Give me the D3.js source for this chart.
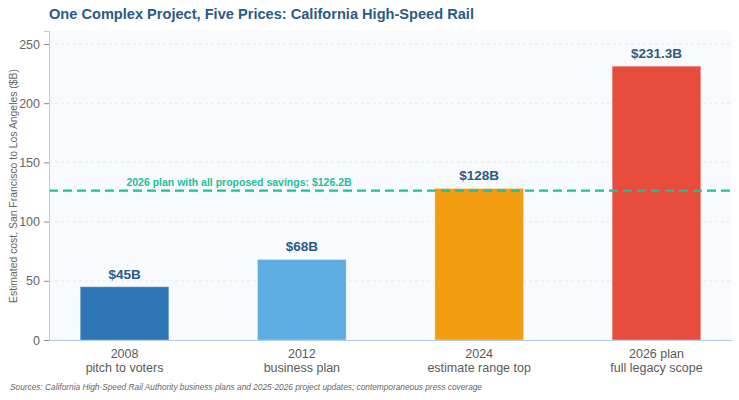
<!DOCTYPE html>
<html>
<head>
<meta charset="utf-8">
<script src="https://cdn.jsdelivr.net/npm/d3@7"></script>
<style>
  body { margin: 0; background: #fff; }
  svg { font-family: "Liberation Sans", Arial, sans-serif; }
</style>
</head>
<body>
<div id="chart"></div>
<script>
// data
const years = ["2008", "2012", "2024", "2026 plan"];
const subtitles = ["pitch to voters", "business plan", "estimate range top", "full legacy scope"];
const costs = [45, 68, 128, 231.3];
const costLabels = ["$45B", "$68B", "$128B", "$231.3B"];
const barColors = ["#2e75b6", "#5dade2", "#f39c12", "#e74c3c"];
const yTicks = [0, 50, 100, 150, 200, 250];
const savingsValue = 126.2;
const savingsLabel = "2026 plan with all proposed savings: $126.2B";

const width = 739, height = 400;
const margin = {top: 31, right: 7, bottom: 60, left: 49};
const innerW = width - margin.left - margin.right;
const innerH = height - margin.top - margin.bottom;

const svg = d3.select("#chart").append("svg")
  .attr("width", width)
  .attr("height", height);

svg.append("text")
  .attr("x", 49).attr("y", 19)
  .attr("font-size", 14.6).attr("font-weight", "bold")
  .attr("fill", "#2b5b84")
  .text("One Complex Project, Five Prices: California High-Speed Rail");

const g = svg.append("g").attr("transform", `translate(${margin.left},${margin.top})`);

g.append("rect")
  .attr("width", innerW).attr("height", innerH)
  .attr("fill", "#f8fafd");

const x = d3.scaleBand()
  .domain(years)
  .range([0, innerW])
  .paddingInner(0.5)
  .paddingOuter(0.176);

const y = d3.scaleLinear()
  .domain([0, 261])
  .range([innerH, 0]);

// grid
g.append("g")
  .selectAll("line")
  .data(yTicks)
  .join("line")
  .attr("x1", 0).attr("x2", innerW)
  .attr("y1", d => y(d)).attr("y2", d => y(d))
  .attr("stroke", "#e3e7ee")
  .attr("stroke-dasharray", "3,3")
  .attr("stroke-width", 0.8);

// bars
g.append("g")
  .selectAll("rect")
  .data(costs)
  .join("rect")
  .attr("x", (d, i) => x(years[i]))
  .attr("y", d => y(d))
  .attr("width", x.bandwidth())
  .attr("height", d => innerH - y(d))
  .attr("fill", (d, i) => barColors[i])
  .attr("stroke", "#ffffff")
  .attr("stroke-opacity", 0.35)
  .attr("stroke-width", 1);

// value labels
g.append("g")
  .selectAll("text")
  .data(costs)
  .join("text")
  .attr("x", (d, i) => x(years[i]) + x.bandwidth() / 2)
  .attr("y", d => y(d) - 8)
  .attr("text-anchor", "middle")
  .attr("font-size", 13.5).attr("font-weight", "bold")
  .attr("fill", "#2b5b84")
  .text((d, i) => costLabels[i]);

// savings line
g.append("line")
  .attr("x1", 0).attr("x2", innerW)
  .attr("y1", y(savingsValue)).attr("y2", y(savingsValue))
  .attr("stroke", "#1fbf9a")
  .attr("stroke-width", 2.2)
  .attr("stroke-dasharray", "9,5");

g.append("text")
  .attr("x", 190).attr("y", y(savingsValue) - 5)
  .attr("text-anchor", "middle")
  .attr("font-size", 10.5).attr("font-weight", "bold")
  .attr("fill", "#1fbf9a")
  .text(savingsLabel);

// y axis
const yAxis = g.append("g")
  .call(d3.axisLeft(y).tickValues(yTicks).tickSize(5).tickPadding(4));
yAxis.select(".domain").attr("stroke", "#b9cde4");
yAxis.selectAll(".tick line").attr("stroke", "#888");
yAxis.selectAll(".tick text")
  .attr("font-size", 12.5).attr("fill", "#666")
  .attr("font-family", "Liberation Sans, Arial, sans-serif");

// x axis
const xAxis = g.append("g")
  .attr("transform", `translate(0,${innerH})`)
  .call(d3.axisBottom(x).tickSize(0).tickFormat(""));
xAxis.select(".domain").attr("stroke", "#b9cde4");
xAxis.selectAll(".tick").each(function(d, i) {
  const t = d3.select(this).append("text")
    .attr("text-anchor", "middle")
    .attr("fill", "#5a5a5a")
    .attr("font-size", 12.5)
    .attr("font-family", "Liberation Sans, Arial, sans-serif");
  t.append("tspan").attr("x", 0).attr("y", 18).text(years[i]);
  t.append("tspan").attr("x", 0).attr("y", 32).text(subtitles[i]);
});

// y label
svg.append("text")
  .attr("transform", `translate(17,186) rotate(-90)`)
  .attr("text-anchor", "middle")
  .attr("font-size", 10.4)
  .attr("fill", "#666")
  .text("Estimated cost, San Francisco to Los Angeles ($B)");

// source
svg.append("text")
  .attr("x", 10).attr("y", 390)
  .attr("font-size", 8.3)
  .attr("font-style", "italic")
  .attr("fill", "#666")
  .text("Sources: California High-Speed Rail Authority business plans and 2025-2026 project updates; contemporaneous press coverage");
</script>
</body>
</html>
